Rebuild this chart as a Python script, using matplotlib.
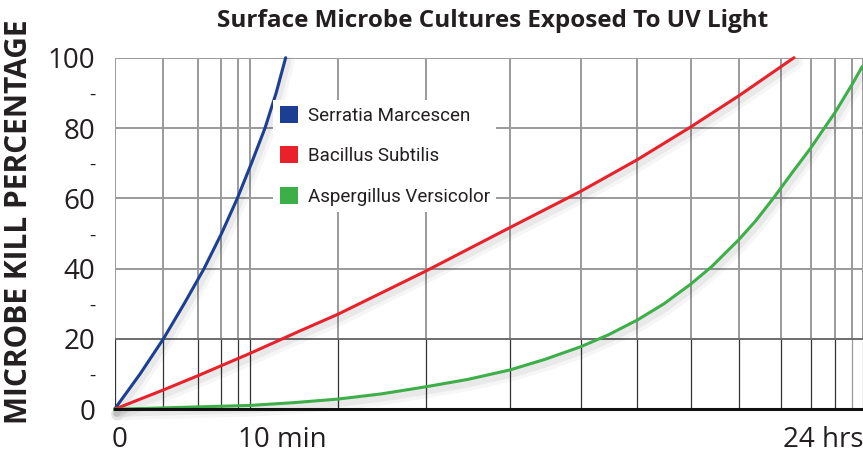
"""
Surface microbe cultures exposed to UV light - kill percentage curves.
"""

import matplotlib
matplotlib.use('Agg')
import matplotlib.pyplot as plt
import matplotlib.patheffects as pe
from matplotlib.patches import Patch
from matplotlib.transforms import ScaledTranslation

# x is the position along the (non-linear) exposure-time axis, in % of axis width
serratia_x = [0, 3.4, 6.52, 9.3, 11.96, 14.3, 16.41, 18.3, 20.11, 21.6, 22.87]
serratia_y = [0, 10, 20, 30, 40, 50, 60, 70, 80, 90, 100]

bacillus_x = [0, 6.52, 11.2, 18.1, 24.78, 29.82, 41.58, 52.84, 62.29,
              69.85, 76.98, 83.43, 90.78]
bacillus_y = [0, 5.5, 9.6, 15.9, 22.3, 27.0, 39.3, 51.7, 62.0,
              71.0, 80.3, 89.2, 100]

aspergillus_x = [0, 6.52, 18.1, 24.0, 29.82, 35.7, 41.58, 47.2, 52.84, 57.5,
                 62.29, 66.0, 69.85, 73.4, 76.98, 79.79, 83.43, 85.7, 88.01,
                 90.5, 93.01, 94.93, 96.26, 98.57, 99.9]
aspergillus_y = [0, 0.4, 1.1, 1.9, 2.9, 4.4, 6.4, 8.5, 11.2, 14.2,
                 17.8, 21.2, 25.4, 30.0, 35.6, 40.6, 48.3, 53.7, 60,
                 67.2, 74.3, 80.3, 84.4, 92.5, 97.5]

series_names = ['Serratia Marcescen', 'Bacillus Subtilis', 'Aspergillus Versicolor']
series_colors = ['#1c3f94', '#e8212b', '#3daf49']

# grid positions of the time axis (log-like spacing)
time_grid = [0, 6.52, 11.20, 14.23, 16.46, 18.10, 29.82, 41.58, 52.84, 62.29,
             69.85, 76.98, 83.43, 89.05, 93.01, 96.26, 98.49, 100]
kill_ticks = [0, 20, 40, 60, 80, 100]
minor_ticks = [10, 30, 50, 70, 90]

text_color = '#231f20'

fig = plt.figure(figsize=(8.63, 4.55), dpi=100)
ax = fig.add_axes([114.5 / 863, 1 - 409.3 / 455, 748.5 / 863, 351.6 / 455])
ax.set_xlim(0, 100)
ax.set_ylim(0, 100)

# grid: grey above 20 %, dark below
for gx in time_grid:
    ax.plot([gx, gx], [20, 100], color='#9a9a9a', lw=1.4, zorder=1)
    low_col = '#9a9a9a' if gx > 98 else '#333333'
    ax.plot([gx, gx], [0, 20], color=low_col, lw=0.9, zorder=1)
for gy in kill_ticks[2:]:
    ax.axhline(gy, color='#9a9a9a', lw=1.4, zorder=1)
ax.axhline(20, color='#6d6d6d', lw=1.4, zorder=1)

for sp in ['top', 'right', 'left']:
    ax.spines[sp].set_visible(False)
ax.spines['bottom'].set_linewidth(2.2)
ax.spines['bottom'].set_color('#111111')
ax.spines['bottom'].set_zorder(5)

# soft drop shadow under the curves
shadow = [pe.SimpleLineShadow(offset=(2, -3.5), shadow_color='k', alpha=0.035,
                              linewidth=9),
          pe.SimpleLineShadow(offset=(1.5, -3), shadow_color='k', alpha=0.05,
                              linewidth=5),
          pe.Normal()]
for xs, ys, c in [(serratia_x, serratia_y, series_colors[0]),
                  (bacillus_x, bacillus_y, series_colors[1]),
                  (aspergillus_x, aspergillus_y, series_colors[2])]:
    ax.plot(xs, ys, color=c, lw=2.2, solid_capstyle='round', solid_joinstyle='round',
            zorder=3, path_effects=shadow, clip_on=False)

# y ticks with dashes in between
ax.set_yticks(kill_ticks + minor_ticks)
ax.set_yticklabels([str(v) for v in kill_ticks] + ['-'] * len(minor_ticks),
                   fontsize=20, color=text_color, family='Open Sans')
ax.tick_params(axis='y', length=0, pad=14)
for lbl in ax.get_yticklabels()[len(kill_ticks):]:
    lbl.set_fontsize(14)

ax.set_xticks([0, 16.46, 100])
ax.set_xticklabels(['0', '10 min', '24 hrs'], fontsize=20, color=text_color,
                   family='Open Sans')
ax.tick_params(axis='x', length=0, pad=12)
xl = ax.get_xticklabels()
xl[0].set_ha('center')
xl[0].set_transform(xl[0].get_transform() + ScaledTranslation(0.05, 0, fig.dpi_scale_trans))
xl[1].set_ha('left')
xl[2].set_ha('right')

handles = [Patch(facecolor=c, edgecolor='none') for c in series_colors]
leg = ax.legend(handles, series_names, loc='upper left',
                bbox_to_anchor=(0.2117, 0.881), borderaxespad=0,
                frameon=True, fancybox=False, edgecolor='none', framealpha=1,
                prop={'family': 'Roboto', 'size': 13.5},
                handlelength=1.0, handleheight=1.0, handletextpad=0.5,
                labelspacing=1.15, borderpad=0.35)
leg.set_zorder(4)
for t in leg.get_texts():
    t.set_color(text_color)

fig.text(493 / 863, 1 - 27 / 455, 'Surface Microbe Cultures Exposed To UV Light',
         ha='center', va='baseline', fontsize=17.5, fontweight='bold',
         color=text_color, family='Open Sans')
fig.text(19 / 863, 1 - 222 / 455, 'MICROBE KILL PERCENTAGE', rotation=90,
         ha='center', va='center', fontsize=21.5, fontweight='bold',
         color=text_color, family='Open Sans')

fig.savefig('out.png', dpi=100)
